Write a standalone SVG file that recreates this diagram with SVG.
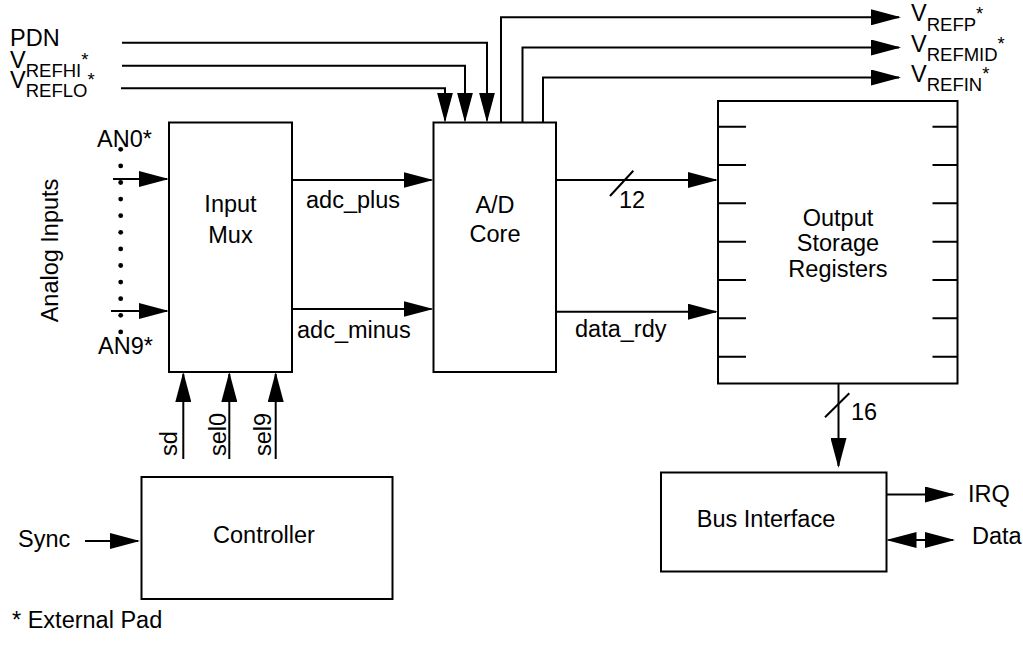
<svg xmlns="http://www.w3.org/2000/svg" width="1023" height="646" viewBox="0 0 1023 646">
<style>
text{font-family:"Liberation Sans",Arial,sans-serif;font-size:23.5px;fill:#000}
.box{fill:#fff;stroke:#000;stroke-width:2}
.w{fill:none;stroke:#000;stroke-width:2}
.mid{text-anchor:middle}
.sub{font-size:18.5px}
.dot{fill:#000}
</style>
<defs>
<marker id="ah" viewBox="0 0 30 16" refX="28" refY="8" markerWidth="30" markerHeight="16" markerUnits="userSpaceOnUse" orient="auto-start-reverse">
<path d="M0,0 L30,8 L0,16 Z" fill="#000"/>
</marker>
</defs>
<rect width="1023" height="646" fill="#fff"/>

<g id="connectors">
<path class="w" d="M122,42.7 H487 V120.5" marker-end="url(#ah)"/>
<path class="w" d="M122,65.7 H465 V120.5" marker-end="url(#ah)"/>
<path class="w" d="M121,88.3 H445 V120.5" marker-end="url(#ah)"/>
<path class="w" d="M501,122.5 V17.3 H899" marker-end="url(#ah)"/>
<path class="w" d="M522.5,122.5 V47.5 H899" marker-end="url(#ah)"/>
<path class="w" d="M543,122.5 V77.5 H899" marker-end="url(#ah)"/>
<path class="w" d="M113,179 H167" marker-end="url(#ah)"/>
<path class="w" d="M111,311 H167" marker-end="url(#ah)"/>
<path class="w" d="M292,180 H431.5" marker-end="url(#ah)"/>
<path class="w" d="M292,309 H431.5" marker-end="url(#ah)"/>
<path class="w" d="M556,180 H716" marker-end="url(#ah)"/>
<path class="w" d="M610,196 L633.3,170.7" stroke-width="1.5"/>
<path class="w" d="M556,311.7 H716" marker-end="url(#ah)"/>
<path class="w" d="M183.3,459 V374" marker-end="url(#ah)"/>
<path class="w" d="M229.3,459 V374" marker-end="url(#ah)"/>
<path class="w" d="M275.7,459 V374" marker-end="url(#ah)"/>
<path class="w" d="M85,541 H138" marker-end="url(#ah)"/>
<path class="w" d="M838.5,383.5 V466" marker-end="url(#ah)"/>
<path class="w" d="M825,417.3 L849.3,393.3" stroke-width="1.5"/>
<path class="w" d="M886.5,494.5 H953" marker-end="url(#ah)"/>
<path class="w" d="M888.5,540 H953" marker-start="url(#ah)" marker-end="url(#ah)"/>
</g>

<g id="signal-labels">
<text x="10" y="46">PDN</text>
<text x="10" y="67.7">V<tspan class="sub" dy="9.5">REFHI</tspan><tspan class="sub" dy="-11">*</tspan></text>
<text x="10" y="87.7">V<tspan class="sub" dy="9.5">REFLO</tspan><tspan class="sub" dy="-11">*</tspan></text>
<text x="911" y="21.3">V<tspan class="sub" dy="9.5">REFP</tspan><tspan class="sub" dy="-11">*</tspan></text>
<text x="911" y="51.5">V<tspan class="sub" dy="9.5">REFMID</tspan><tspan class="sub" dy="-11">*</tspan></text>
<text x="911" y="81.5">V<tspan class="sub" dy="9.5">REFIN</tspan><tspan class="sub" dy="-11">*</tspan></text>
<text x="97" y="147">AN0*</text>
<text x="98" y="354">AN9*</text>
<text transform="translate(58,250.5) rotate(-90)" class="mid">Analog Inputs</text>
<text x="306" y="208">adc_plus</text>
<text x="297" y="338">adc_minus</text>
<text x="619" y="207.5">12</text>
<text x="575" y="337">data_rdy</text>
<text transform="translate(177,456) rotate(-90)">sd</text>
<text transform="translate(225.5,456) rotate(-90)">sel0</text>
<text transform="translate(271,456) rotate(-90)">sel9</text>
<text x="18" y="547">Sync</text>
<text x="851" y="420">16</text>
<text x="968" y="502">IRQ</text>
<text x="972" y="544">Data</text>
<text x="12" y="628">* External Pad</text>
</g>

<g id="analog-dots">
<circle class="dot" cx="120.7" cy="149.3" r="2.4"/>
<circle class="dot" cx="120.7" cy="165.9" r="2.4"/>
<circle class="dot" cx="120.7" cy="182.5" r="2.4"/>
<circle class="dot" cx="120.7" cy="199.1" r="2.4"/>
<circle class="dot" cx="120.7" cy="215.7" r="2.4"/>
<circle class="dot" cx="120.7" cy="232.3" r="2.4"/>
<circle class="dot" cx="120.7" cy="248.9" r="2.4"/>
<circle class="dot" cx="120.7" cy="265.5" r="2.4"/>
<circle class="dot" cx="120.7" cy="282.1" r="2.4"/>
<circle class="dot" cx="120.7" cy="298.7" r="2.4"/>
<circle class="dot" cx="120.7" cy="315.3" r="2.4"/>
<circle class="dot" cx="120.7" cy="331.9" r="2.4"/>
</g>

<g id="input-mux">
<rect class="box" x="169" y="122.5" width="123" height="249.5"/>
<text class="mid" x="230.5" y="211.5">Input</text>
<text class="mid" x="230.5" y="242.5">Mux</text>
</g>

<g id="ad-core">
<rect class="box" x="433.5" y="122.5" width="122.5" height="249.5"/>
<text class="mid" x="495" y="212.5">A/D</text>
<text class="mid" x="495" y="241.5">Core</text>
</g>

<g id="output-storage">
<rect class="box" x="718" y="101" width="239.5" height="282.5"/>
<path class="w" d="M718,126.7 H746 M718,165 H746 M718,203.3 H746 M718,241.7 H746 M718,280 H746 M718,318.3 H746 M718,356.7 H746
M932.5,126.7 H957.5 M932.5,165 H957.5 M932.5,203.3 H957.5 M932.5,241.7 H957.5 M932.5,280 H957.5 M932.5,318.3 H957.5 M932.5,356.7 H957.5"/>
<text class="mid" x="838" y="225.5">Output</text>
<text class="mid" x="838" y="251">Storage</text>
<text class="mid" x="838" y="276.5">Registers</text>
</g>

<g id="controller">
<rect class="box" x="141.5" y="477" width="251" height="122"/>
<text class="mid" x="264" y="543">Controller</text>
</g>

<g id="bus-interface">
<rect class="box" x="661" y="472.5" width="225.5" height="99"/>
<text class="mid" x="766" y="527">Bus Interface</text>
</g>
</svg>
